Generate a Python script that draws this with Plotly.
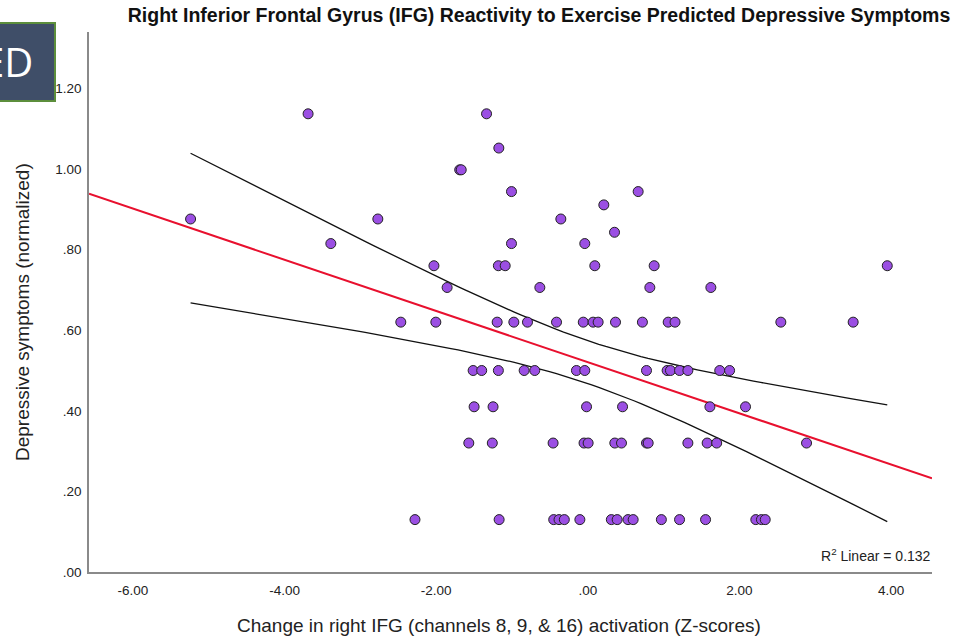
import numpy as np
import plotly.graph_objects as go

title_text = "Right Inferior Frontal Gyrus (IFG) Reactivity to Exercise Predicted Depressive Symptoms"
x_title = "Change in right IFG (channels 8, 9, &amp; 16) activation (Z-scores)"
y_title = "Depressive symptoms (normalized)"
r2_label = "R<sup>2</sup> Linear = 0.132"
badge_text = "ED"

x_tick_vals = [-6, -4, -2, 0, 2, 4]
x_tick_text = ["-6.00", "-4.00", "-2.00", ".00", "2.00", "4.00"]
y_tick_vals = [0, 0.2, 0.4, 0.6, 0.8, 1.0, 1.2]
y_tick_text = [".00", ".20", ".40", ".60", ".80", "1.00", "1.20"]
x_range = [-6.58, 4.54]
y_range = [0, 1.34]

# Change in right IFG activation (Z) and depressive symptoms
ifg_change = [
    -2.28, -1.17, -0.45, -0.38, -0.31, -0.105, 0.31, 0.387, 0.53, 0.598, 0.97, 1.21, 1.553, 2.216, 2.29, 2.34,
    -1.57, -1.26, -0.458, -0.05, 0.004, 0.356, 0.444, 0.774, 0.796, 1.32, 1.574, 1.70, 2.885,
    -1.50, -1.25, -0.017, 0.458, 1.61, 2.08,
    -1.513, -1.40, -1.18, -0.84, -0.70, -0.15, -0.04, 0.774, 1.046, 1.09, 1.21, 1.32, 1.74, 1.87,
    -2.467, -2.005, -1.196, -0.976, -0.796, -0.413, -0.06, 0.07, 0.136, 0.365, 0.72, 1.06, 1.15, 2.546, 3.50,
    -1.856, -0.633, 0.818, 1.623,
    -2.03, -1.18, -1.09, 0.092, 0.875, 3.95,
    -3.39, -1.007, -0.04,
    0.352,
    -5.24, -2.77, -0.356,
    0.211,
    -1.007, 0.664,
    -1.69, -1.67,
    -1.174,
    -3.69, -1.336,
]
depressive = [
    0.13, 0.13, 0.13, 0.13, 0.13, 0.13, 0.13, 0.13, 0.13, 0.13, 0.13, 0.13, 0.13, 0.13, 0.13, 0.13,
    0.32, 0.32, 0.32, 0.32, 0.32, 0.32, 0.32, 0.32, 0.32, 0.32, 0.32, 0.32, 0.32,
    0.41, 0.41, 0.41, 0.41, 0.41, 0.41,
    0.50, 0.50, 0.50, 0.50, 0.50, 0.50, 0.50, 0.50, 0.50, 0.50, 0.50, 0.50, 0.50, 0.50,
    0.62, 0.62, 0.62, 0.62, 0.62, 0.62, 0.62, 0.62, 0.62, 0.62, 0.62, 0.62, 0.62, 0.62, 0.62,
    0.706, 0.706, 0.706, 0.706,
    0.76, 0.76, 0.76, 0.76, 0.76, 0.76,
    0.815, 0.815, 0.815,
    0.843,
    0.876, 0.876, 0.876,
    0.911,
    0.944, 0.944,
    0.998, 0.998,
    1.052,
    1.137, 1.137,
]

x = np.array(ifg_change)
y = np.array(depressive)
n = len(x)
slope, intercept = np.polyfit(x, y, 1)
resid = y - (slope * x + intercept)
s = np.sqrt(np.sum(resid ** 2) / (n - 2))
xbar = x.mean()
sxx = np.sum((x - xbar) ** 2)
t_crit = 1.986

ci_x = np.linspace(x.min(), x.max(), 100)
ci_fit = slope * ci_x + intercept
ci_half = t_crit * s * np.sqrt(1.0 / n + (ci_x - xbar) ** 2 / sxx)
fit_x = np.array(x_range)
fit_y = slope * fit_x + intercept

fig = go.Figure()
fig.add_trace(go.Scatter(x=ci_x, y=ci_fit + ci_half, mode="lines",
                         line=dict(color="#111111", width=1.3), hoverinfo="skip"))
fig.add_trace(go.Scatter(x=ci_x, y=ci_fit - ci_half, mode="lines",
                         line=dict(color="#111111", width=1.3), hoverinfo="skip"))
fig.add_trace(go.Scatter(x=fit_x, y=fit_y, mode="lines",
                         line=dict(color="#E8102E", width=2), hoverinfo="skip"))
fig.add_trace(go.Scatter(x=ifg_change, y=depressive, mode="markers",
                         marker=dict(size=10, color="#9B4FE3",
                                     line=dict(color="#222222", width=1))))

W, H = 963, 639
L, R, T, B = 89, 31, 32, 67
pw, ph = W - L - R, H - T - B


def px(xp):
    return (xp - L) / pw


def py(yp):
    return (H - B - yp) / ph


axis_common = dict(showgrid=False, zeroline=False, showline=True, linecolor="#8a8a8a",
                   linewidth=1.5, ticks="", tickfont=dict(family="Liberation Sans", size=13.5, color="#222222"))

fig.update_layout(
    width=W, height=H,
    margin=dict(l=L, r=R, t=T, b=B),
    paper_bgcolor="white", plot_bgcolor="white",
    showlegend=False,
    title=dict(text="<b>" + title_text + "</b>", x=539 / W, xanchor="center",
               y=1 - 15 / H, yanchor="middle",
               font=dict(family="Liberation Sans", size=19.5, color="#111111")),
    xaxis=dict(range=x_range, tickvals=x_tick_vals, ticktext=x_tick_text,
               ticklabelstandoff=5, **axis_common),
    yaxis=dict(range=y_range, tickvals=y_tick_vals, ticktext=y_tick_text,
               ticklabelstandoff=3, **axis_common),
    shapes=[dict(type="rect", xref="paper", yref="paper",
                 x0=px(-4), x1=px(55), y0=py(101), y1=py(23),
                 fillcolor="#3F4E68", line=dict(color="#5C8E3C", width=2), layer="above")],
    annotations=[
        dict(text=badge_text, xref="paper", yref="paper", x=px(35), y=py(61),
             xanchor="right", yanchor="middle", showarrow=False,
             font=dict(family="Open Sans", size=40, color="white")),
        dict(text=y_title, xref="paper", yref="paper", x=px(22), y=py(312),
             textangle=-90, xanchor="center", yanchor="middle", showarrow=False,
             font=dict(family="Liberation Sans", size=19, color="#222222")),
        dict(text=x_title, xref="paper", yref="paper", x=px(499), y=py(625),
             xanchor="center", yanchor="middle", showarrow=False,
             font=dict(family="Liberation Sans", size=19, color="#222222")),
        dict(text=r2_label, xref="paper", yref="paper", x=px(933), y=py(555),
             xanchor="right", yanchor="middle", showarrow=False,
             font=dict(family="Liberation Sans", size=14, color="#222222")),
    ],
)

fig.write_html("out.html")
